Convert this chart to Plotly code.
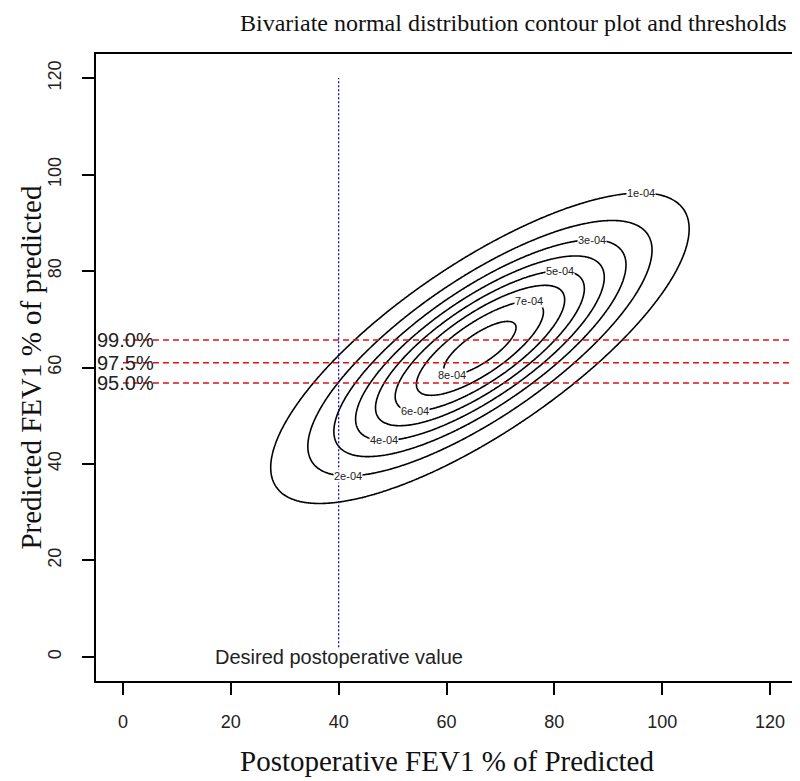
import numpy as np
import plotly.graph_objects as go

# ---- data ----
mean_x = 66.2
mean_y = 64.0
sd_x = 18.74
sd_y = 15.55
rho = 0.768

contour_levels = [1e-4, 2e-4, 3e-4, 4e-4, 5e-4, 6e-4, 7e-4, 8e-4]
label_side = ["top", "bottom", "top", "bottom", "top", "bottom", "top", "bottom"]

threshold_labels = ["99.0%", "97.5%", "95.0%"]
threshold_values = [65.7, 61.0, 56.8]
threshold_x_start = 0

desired_value = 40
desired_label = "Desired postoperative value"
desired_line_y = [2, 120]
desired_label_y = 0

tick_values = [0, 20, 40, 60, 80, 100, 120]
axis_range = [-5, 125]

title_text = "Bivariate normal distribution contour plot and thresholds"
x_title = "Postoperative FEV1 % of Predicted"
y_title = "Predicted FEV1 % of predicted"

# ---- density grid ----
xs = np.linspace(axis_range[0], axis_range[1], 521)
ys = np.linspace(axis_range[0], axis_range[1], 521)
X, Y = np.meshgrid(xs, ys)
zx = (X - mean_x) / sd_x
zy = (Y - mean_y) / sd_y
Q = (zx ** 2 - 2 * rho * zx * zy + zy ** 2) / (1 - rho ** 2)
norm = 1.0 / (2 * np.pi * sd_x * sd_y * np.sqrt(1 - rho ** 2))
Z = norm * np.exp(-Q / 2)

step = contour_levels[1] - contour_levels[0]

fig = go.Figure()
fig.add_trace(go.Contour(
    x=xs, y=ys, z=Z,
    autocontour=False,
    contours=dict(start=contour_levels[0], end=contour_levels[-1] + step / 2,
                  size=step, coloring="lines", showlabels=False),
    colorscale=[[0, "black"], [1, "black"]],
    showscale=False,
    line=dict(width=1.6),
    hoverinfo="skip",
))

# threshold lines
for val in threshold_values:
    fig.add_trace(go.Scatter(
        x=[threshold_x_start, axis_range[1]], y=[val, val], mode="lines",
        line=dict(color="#e01010", width=1.5, dash="6px,4px"),
        hoverinfo="skip", showlegend=False,
    ))

# desired value line
fig.add_trace(go.Scatter(
    x=[desired_value, desired_value], y=desired_line_y, mode="lines",
    line=dict(color="#0000c8", width=1.2, dash="2px,2px"),
    hoverinfo="skip", showlegend=False,
))

annotations = []
# contour labels at the top / bottom point of each ellipse
for lev, side in zip(contour_levels, label_side):
    c = 2 * np.log(norm / lev)
    r = np.sqrt(c)
    sgn = 1 if side == "top" else -1
    lx = mean_x + sgn * rho * sd_x * r
    ly = mean_y + sgn * sd_y * r
    annotations.append(dict(
        x=lx, y=ly, xref="x", yref="y", text=f"{lev:.0e}", showarrow=False,
        font=dict(family="Liberation Sans, Arial", size=11, color="#222222"),
        bgcolor="white", borderpad=0, xanchor="center", yanchor="middle",
    ))

for lab, val in zip(threshold_labels, threshold_values):
    annotations.append(dict(
        x=axis_range[0], y=val, xref="x", yref="y", text=lab, showarrow=False,
        font=dict(family="Liberation Sans, Arial", size=20, color="#222222"),
        xanchor="left", yanchor="middle", borderpad=0,
    ))

annotations.append(dict(
    x=desired_value, y=desired_label_y, xref="x", yref="y", text=desired_label,
    showarrow=False, font=dict(family="Liberation Sans, Arial", size=20, color="#222222"),
    xanchor="center", yanchor="middle",
))

annotations.append(dict(
    x=0.595, y=1.072, xref="paper", yref="paper", text=title_text, showarrow=False,
    font=dict(family="Liberation Serif, Times New Roman", size=24, color="#111111"),
    xanchor="center", yanchor="top", borderpad=0,
))
annotations.append(dict(
    x=0.5, y=-0.127, xref="paper", yref="paper", text=x_title, showarrow=False,
    font=dict(family="Liberation Serif, Times New Roman", size=29, color="#111111"),
    xanchor="center", yanchor="middle",
))
annotations.append(dict(
    x=-0.094, y=0.5, xref="paper", yref="paper", text=y_title, showarrow=False,
    textangle=-90,
    font=dict(family="Liberation Serif, Times New Roman", size=29, color="#111111"),
    xanchor="center", yanchor="middle",
))

axis_common = dict(
    range=axis_range, tickvals=tick_values, ticks="outside", ticklen=12,
    tickwidth=1.5, tickcolor="black", showline=True, linecolor="black",
    linewidth=1.5, mirror=True, showgrid=False, zeroline=False,
    tickfont=dict(family="Liberation Sans, Arial", size=18, color="#222222"),
)

# page body has an 8px margin, so the figure is sized/margined to compensate
fig.update_layout(
    width=792, height=773,
    margin=dict(l=88, r=3, t=46, b=100, autoexpand=False),
    plot_bgcolor="white", paper_bgcolor="white",
    showlegend=False,
    xaxis=dict(**axis_common, ticklabelstandoff=12, automargin=False),
    yaxis=dict(**axis_common, tickangle=-90, ticklabelstandoff=14, automargin=False),
    annotations=annotations,
)

fig.write_html("out.html")
